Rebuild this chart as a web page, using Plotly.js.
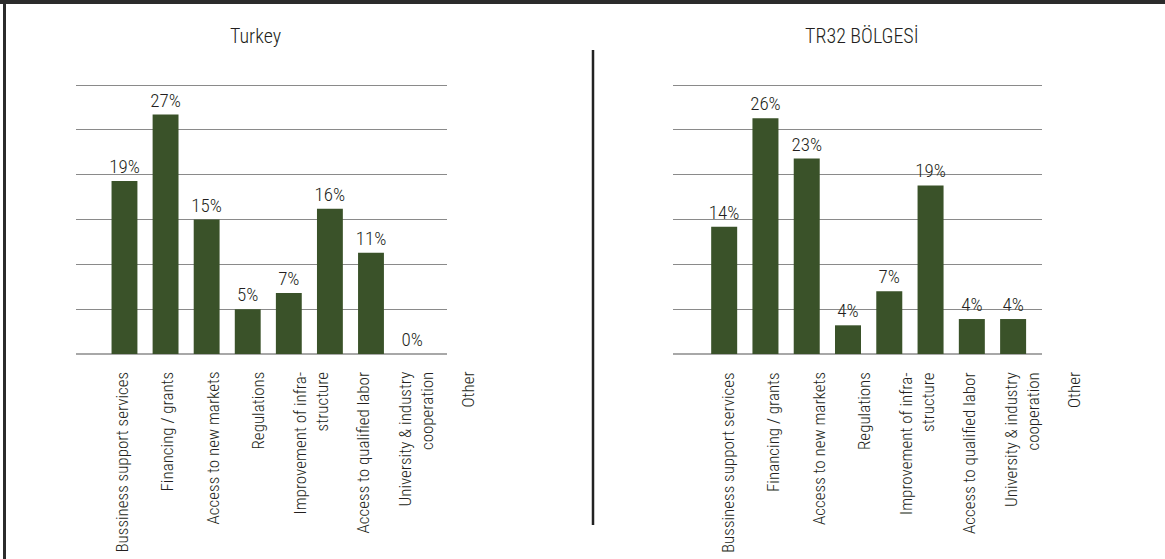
<!DOCTYPE html>
<html>
<head>
<meta charset="utf-8">
<script src="https://cdn.plot.ly/plotly-3.0.1.min.js"></script>
<style>
  html, body { margin: 0; padding: 0; background: #fff; }
  #chart { width: 1165px; height: 559px; }
</style>
</head>
<body>
<div id="chart"></div>
<script>
// ---- data ----
const categories = [
  'Bussiness support services',
  'Financing / grants',
  'Access to new markets',
  'Regulations',
  'Improvement of infra-<br>structure',
  'Access to qualified labor',
  'University & industry<br>cooperation',
  'Other'
];
const turkeyValues = [19.3, 26.7, 15, 5, 6.8, 16.2, 11.3, 0];
const turkeyLabels = ['19%', '27%', '15%', '5%', '7%', '16%', '11%', '0%'];
const tr32Values = [14.2, 26.3, 21.8, 3.2, 7, 18.8, 3.9, 3.9];
const tr32Labels = ['14%', '26%', '23%', '4%', '7%', '19%', '4%', '4%'];
const titleLeft = 'Turkey';
const titleRight = 'TR32 BÖLGESİ';

// ---- style ----
const W = 1165, H = 559;
const FONT = '"Roboto Condensed", "Open Sans Condensed", "Noto Sans Condensed", "Liberation Sans Narrow", "DejaVu Sans Condensed", sans-serif';
const TXT = '#231f20';
const BAR = '#3a5229';
const idx = categories.map((_, i) => i);

function barTrace(vals, labels, xa, ya) {
  return {
    type: 'bar', x: idx, y: vals, text: labels,
    textposition: 'outside', constraintext: 'none', cliponaxis: false,
    textfont: {family: FONT, size: 19, color: TXT, weight: 300},
    marker: {color: BAR, line: {width: 0}},
    width: 0.63, xaxis: xa, yaxis: ya, hoverinfo: 'skip', showlegend: false
  };
}

// y range slightly above 30 so the 30 gridline is drawn
const Y_TOP = 30.3;
const basePx = 354, topGridPx = 85;
const pxPerUnit = (basePx - topGridPx) / 30;
const yDom = [1 - basePx / H, 1 - (topGridPx - (Y_TOP - 30) * pxPerUnit) / H];

const yax = (dom) => ({
  domain: dom, range: [0, Y_TOP], tickvals: [5, 10, 15, 20, 25, 30], showgrid: true,
  gridcolor: '#8a8a8a', gridwidth: 1, zeroline: true, zerolinecolor: '#a8a8a8',
  zerolinewidth: 2, showticklabels: false, ticks: '', fixedrange: true
});
const xax = (dom, rng, anchor) => ({
  domain: dom, range: rng, showgrid: false, zeroline: false, showline: false,
  showticklabels: false, ticks: '', anchor: anchor, fixedrange: true
});

// category labels laid out as a flow below each chart
function labelAnnotations(startPx) {
  const out = [];
  let c = startPx;
  categories.forEach((t, i) => {
    const lines = t.split('<br>').length;
    const half = lines > 1 ? 16 : 9;
    if (i > 0) {
      const prevLines = categories[i - 1].split('<br>').length;
      const prevHalf = prevLines > 1 ? 16 : 9;
      c += prevHalf + 27.5 + half;
    }
    out.push({
      text: t, xref: 'paper', yref: 'paper', x: c / W, y: 1 - 370 / H,
      xanchor: 'center', yanchor: 'top', textangle: -90, align: 'right',
      showarrow: false, font: {family: FONT, size: 17, color: TXT, weight: 300}
    });
  });
  return out;
}

const annotations = [
  {text: titleLeft, xref: 'paper', yref: 'paper', x: 255 / W, y: 1 - 36 / H,
   xanchor: 'center', yanchor: 'middle', showarrow: false,
   font: {family: FONT, size: 20, color: TXT, weight: 300}},
  {text: titleRight, xref: 'paper', yref: 'paper', x: 862 / W, y: 1 - 36 / H,
   xanchor: 'center', yanchor: 'middle', showarrow: false,
   font: {family: FONT, size: 20, color: TXT, weight: 300}},
  ...labelAnnotations(121),
  ...labelAnnotations(727.5)
];

const shapes = [
  // frame: top and left edges
  {type: 'line', xref: 'paper', yref: 'paper', x0: 0, x1: 1, y0: 1 - 2 / H, y1: 1 - 2 / H,
   line: {color: '#2b2b2b', width: 4}},
  {type: 'line', xref: 'paper', yref: 'paper', x0: 4.5 / W, x1: 4.5 / W, y0: 0, y1: 1,
   line: {color: '#2b2b2b', width: 3}},
  // divider between the two charts
  {type: 'line', xref: 'paper', yref: 'paper', x0: 593 / W, x1: 593 / W,
   y0: 1 - 50 / H, y1: 1 - 525 / H, line: {color: '#222', width: 2.5}}
];

const layout = {
  width: W, height: H, margin: {l: 0, r: 0, t: 0, b: 0},
  paper_bgcolor: '#fff', plot_bgcolor: 'rgba(0,0,0,0)',
  xaxis: xax([76 / W, 447 / W], [-1.18, 7.85], 'y'),
  yaxis: Object.assign(yax(yDom), {anchor: 'x'}),
  xaxis2: xax([673 / W, 1042 / W], [-1.24, 7.70], 'y2'),
  yaxis2: Object.assign(yax(yDom), {anchor: 'x2'}),
  annotations: annotations, shapes: shapes,
  font: {family: FONT, color: TXT}
};

Plotly.newPlot('chart', [
  barTrace(turkeyValues, turkeyLabels, 'x', 'y'),
  barTrace(tr32Values, tr32Labels, 'x2', 'y2')
], layout, {displayModeBar: false, staticPlot: true});
</script>
</body>
</html>
